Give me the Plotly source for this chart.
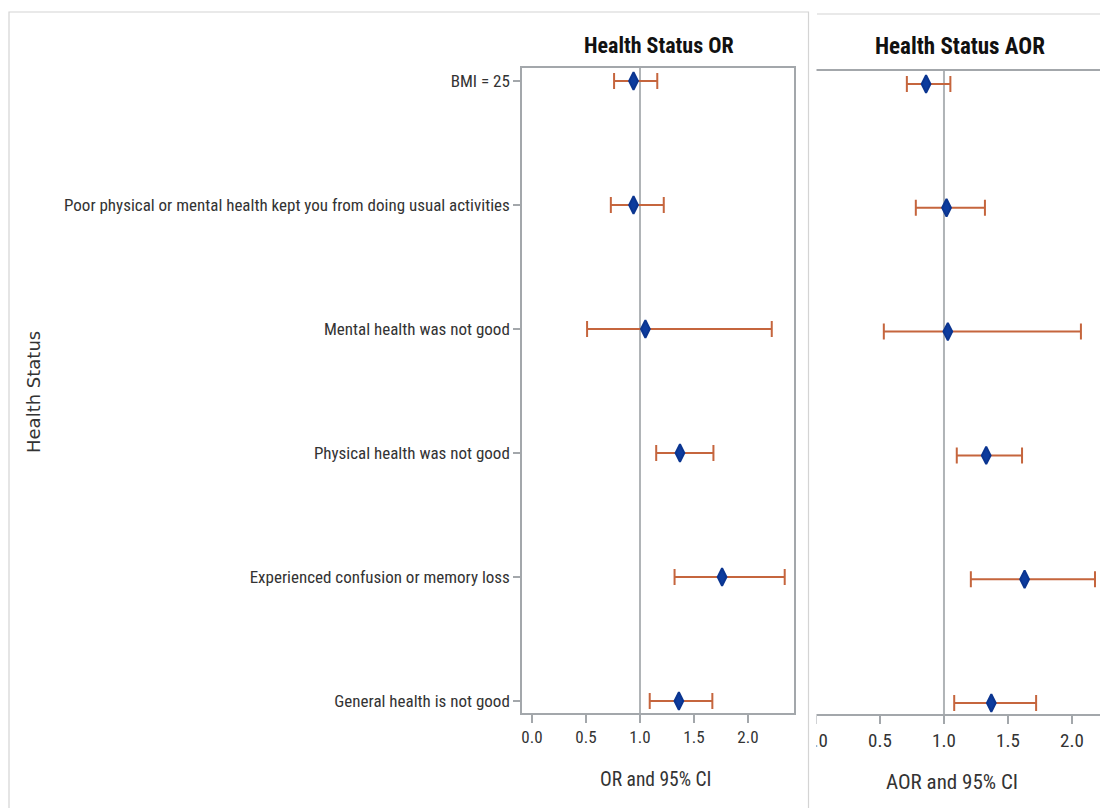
import plotly.graph_objects as go

# ---------------- data ----------------
categories = [
    "BMI = 25",
    "Poor physical or mental health kept you from doing usual activities",
    "Mental health was not good",
    "Physical health was not good",
    "Experienced confusion or memory loss",
    "General health is not good",
]
or_est = [0.94, 0.94, 1.05, 1.37, 1.76, 1.36]
or_low = [0.76, 0.73, 0.51, 1.15, 1.32, 1.09]
or_high = [1.16, 1.22, 2.22, 1.68, 2.34, 1.67]

aor_est = [0.86, 1.02, 1.03, 1.33, 1.63, 1.37]
aor_low = [0.71, 0.78, 0.53, 1.10, 1.21, 1.08]
aor_high = [1.05, 1.32, 2.07, 1.61, 2.18, 1.72]

x_ticks = [0.0, 0.5, 1.0, 1.5, 2.0]
x_ticktext = ["0.0", "0.5", "1.0", "1.5", "2.0"]

# ---------------- layout helpers ----------------
# the page body has an 8 px margin, so the figure is drawn 8 px in from the corner
OFF = 8
W, H = 1100, 800
def px(x):
    return (x - OFF) / W
def py(y):
    return 1 - (y - OFF) / H

NARROW = "Liberation Sans Narrow, Arial Narrow, Roboto Condensed, Liberation Sans, sans-serif"
WIDE = "DejaVu Sans, Verdana, sans-serif"
AX = "#a3a7ab"
BAR = "#c5653d"
MK = "#0d3c9e"

fig = go.Figure()

def add_series(est, low, high, xa, ya):
    plus = [h - e for h, e in zip(high, est)]
    minus = [e - l for e, l in zip(est, low)]
    fig.add_trace(go.Scatter(
        x=est, y=categories, xaxis=xa, yaxis=ya, mode="markers",
        marker=dict(symbol="diamond-tall", size=12.5, color=MK,
                    line=dict(color="#0b3590", width=2)),
        error_x=dict(type="data", symmetric=False, array=plus, arrayminus=minus,
                     color=BAR, thickness=2, width=8),
        showlegend=False, hoverinfo="skip",
    ))

add_series(or_est, or_low, or_high, "x", "y")
add_series(aor_est, aor_low, aor_high, "x2", "y2")

def x_axis(size):
    return dict(tickvals=x_ticks, ticktext=x_ticktext, showgrid=False, zeroline=False,
                showline=True, linecolor=AX, linewidth=1.5, ticks="outside",
                ticklen=8, tickcolor=AX, tickwidth=1.5, mirror=True,
                tickfont=dict(family=NARROW, size=size, color="#333333"))

fig.update_layout(
    width=W, height=H, margin=dict(l=0, r=0, t=0, b=0),
    paper_bgcolor="white", plot_bgcolor="white",
    xaxis=dict(domain=[px(522), px(794)], range=[-0.0926, 2.426], anchor="y", **x_axis(17)),
    yaxis=dict(domain=[py(713), py(68)], type="category", categoryorder="array",
               categoryarray=categories, range=[5.097, -0.105], showgrid=False,
               zeroline=False, showline=True, mirror=True, linecolor=AX, linewidth=1.5,
               ticks="outside", ticklen=7, tickcolor=AX, tickwidth=1.5,
               tickfont=dict(family=NARROW, size=17, color="#333333"), anchor="x"),
    xaxis2=dict(domain=[px(798), px(1106)], range=[-0.1406, 2.266], anchor="y2", **x_axis(19)),
    yaxis2=dict(domain=[py(714), py(71)], type="category", categoryorder="array",
                categoryarray=categories, range=[5.089, -0.105], showgrid=False,
                zeroline=False, showline=True, mirror=False, side="right",
                linecolor=AX, linewidth=1.5, ticks="", showticklabels=False, anchor="x2"),
)

shapes = []
# reference lines at 1.0
for xr, yr in (("x", "y domain"), ("x2", "y2 domain")):
    shapes.append(dict(type="line", xref=xr, yref=yr, x0=1, x1=1, y0=0, y1=1,
                       line=dict(color="#b0b4b7", width=2), layer="below"))
# crop gap between the two panels (hides the cut-off part of the right panel)
shapes.append(dict(type="rect", xref="paper", yref="paper", x0=px(797), x1=px(816.5),
                   y0=0, y1=py(716), fillcolor="white", line=dict(width=0), layer="above"))
shapes.append(dict(type="rect", xref="paper", yref="paper", x0=px(797), x1=px(816.5),
                   y0=py(716), y1=1, fillcolor="white", line=dict(width=0), layer="above"))
# outer panel borders
shapes.append(dict(type="rect", xref="paper", yref="paper", x0=px(9), x1=px(808.5),
                   y0=py(812), y1=py(12), line=dict(color="#d4d4d4", width=1.2),
                   fillcolor="rgba(0,0,0,0)", layer="above"))
shapes.append(dict(type="line", xref="paper", yref="paper", x0=px(817), x1=px(1110),
                   y0=py(14), y1=py(14), line=dict(color="#d4d4d4", width=1.2),
                   layer="above"))
fig.update_layout(shapes=shapes)

annotations = [
    dict(text="<b>Health Status OR</b>", x=px(659), y=py(45), xref="paper", yref="paper",
         showarrow=False, font=dict(family=NARROW, size=22, color="#111111"),
         xanchor="center", yanchor="middle"),
    dict(text="<b>Health Status AOR</b>", x=px(960), y=py(47), xref="paper", yref="paper",
         showarrow=False, font=dict(family=NARROW, size=23, color="#111111"),
         xanchor="center", yanchor="middle"),
    dict(text="OR and 95% CI", x=px(655), y=py(779), xref="paper", yref="paper",
         showarrow=False, font=dict(family=NARROW, size=19.5, color="#333333"),
         xanchor="center", yanchor="middle"),
    dict(text="AOR and 95% CI", x=px(952), y=py(782), xref="paper", yref="paper",
         showarrow=False, font=dict(family=NARROW, size=21, color="#333333"),
         xanchor="center", yanchor="middle"),
    dict(text="Health Status", x=px(33), y=py(392), xref="paper", yref="paper",
         showarrow=False, textangle=-90, font=dict(family=WIDE, size=18, color="#333333"),
         xanchor="center", yanchor="middle"),
]
fig.update_layout(annotations=annotations)

fig.write_html("out.html")
